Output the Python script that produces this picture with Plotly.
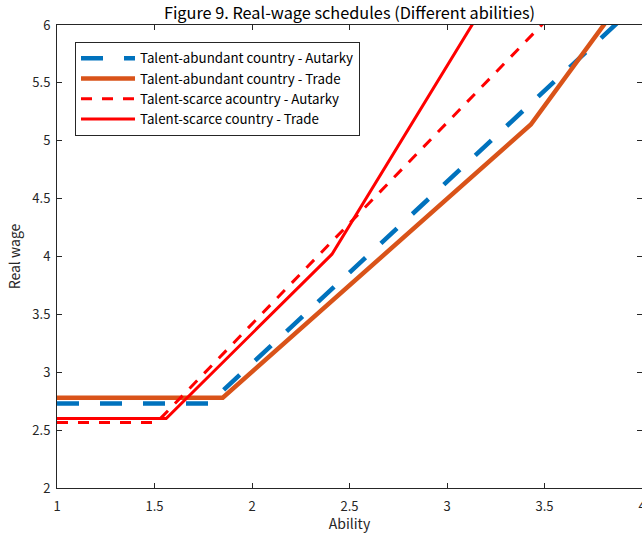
import plotly.graph_objects as go

# Data
abundant_autarky_x = [1.0, 1.78, 3.90]
abundant_autarky_y = [2.73, 2.73, 6.06]

abundant_trade_x = [1.0, 1.85, 3.43, 3.83]
abundant_trade_y = [2.78, 2.78, 5.14, 6.06]

scarce_autarky_x = [1.0, 1.51, 3.52]
scarce_autarky_y = [2.565, 2.565, 6.06]

scarce_trade_x = [1.0, 1.56, 2.41, 3.15]
scarce_trade_y = [2.60, 2.60, 4.02, 6.06]

names = [
    "Talent-abundant country - Autarky",
    "Talent-abundant country - Trade",
    "Talent-scarce acountry - Autarky",
    "Talent-scarce country - Trade",
]

x_ticks = [1, 1.5, 2, 2.5, 3, 3.5, 4]
y_ticks = [2, 2.5, 3, 3.5, 4, 4.5, 5, 5.5, 6]

FONT = "Noto Sans CJK JP"
AX = "#262626"

fig = go.Figure()
fig.add_trace(go.Scatter(x=abundant_autarky_x, y=abundant_autarky_y, mode="lines",
                         name=names[0],
                         line=dict(color="#0072BD", width=4.5, dash="22px,21px")))
fig.add_trace(go.Scatter(x=abundant_trade_x, y=abundant_trade_y, mode="lines",
                         name=names[1],
                         line=dict(color="#D95319", width=4.5)))
fig.add_trace(go.Scatter(x=scarce_autarky_x, y=scarce_autarky_y, mode="lines",
                         name=names[2],
                         line=dict(color="#FF0000", width=3, dash="11px,10px")))
fig.add_trace(go.Scatter(x=scarce_trade_x, y=scarce_trade_y, mode="lines",
                         name=names[3],
                         line=dict(color="#FF0000", width=3)))

axis_common = dict(
    showgrid=False, zeroline=False, showline=True, linecolor=AX, linewidth=1,
    mirror="ticks", ticks="inside", ticklen=5, tickcolor=AX, tickwidth=1,
    tickfont=dict(family=FONT, size=13, color=AX), automargin=False,
    ticklabeloverflow="allow",
)

fig.update_layout(
    width=642, height=533,
    margin=dict(l=57, r=0, t=25, b=45),
    paper_bgcolor="white", plot_bgcolor="white",
    title=dict(text="Figure 9. Real-wage schedules (Different abilities)",
               font=dict(family=FONT, size=16.3, color="black"),
               x=(57 + 642) / 2 / 642, xanchor="center",
               y=1 - 13 / 533, yanchor="middle", yref="container"),
    xaxis=dict(range=[1, 4], tickvals=x_ticks,
               ticktext=[("%g" % v) for v in x_ticks],
               ticklabelstandoff=6,
               title=dict(text="Ability", font=dict(family=FONT, size=14, color=AX), standoff=9),
               **axis_common),
    yaxis=dict(range=[2, 6], tickvals=y_ticks,
               ticktext=[("%g" % v) for v in y_ticks],
               title=dict(text="Real wage", font=dict(family=FONT, size=14, color=AX), standoff=8),
               ticklabelstandoff=3,
               **axis_common),
    legend=dict(x=(75 - 57) / 585, y=1 - (42 - 25) / 463, xanchor="left", yanchor="top",
                bgcolor="white", bordercolor=AX, borderwidth=1,
                font=dict(family=FONT, size=13.3, color="black"),
                itemwidth=54, tracegroupgap=0),
    showlegend=True,
)

fig.write_html("out.html", config={"displayModeBar": False},
               post_script="document.body.style.margin='0px';document.body.style.overflow='hidden';")
